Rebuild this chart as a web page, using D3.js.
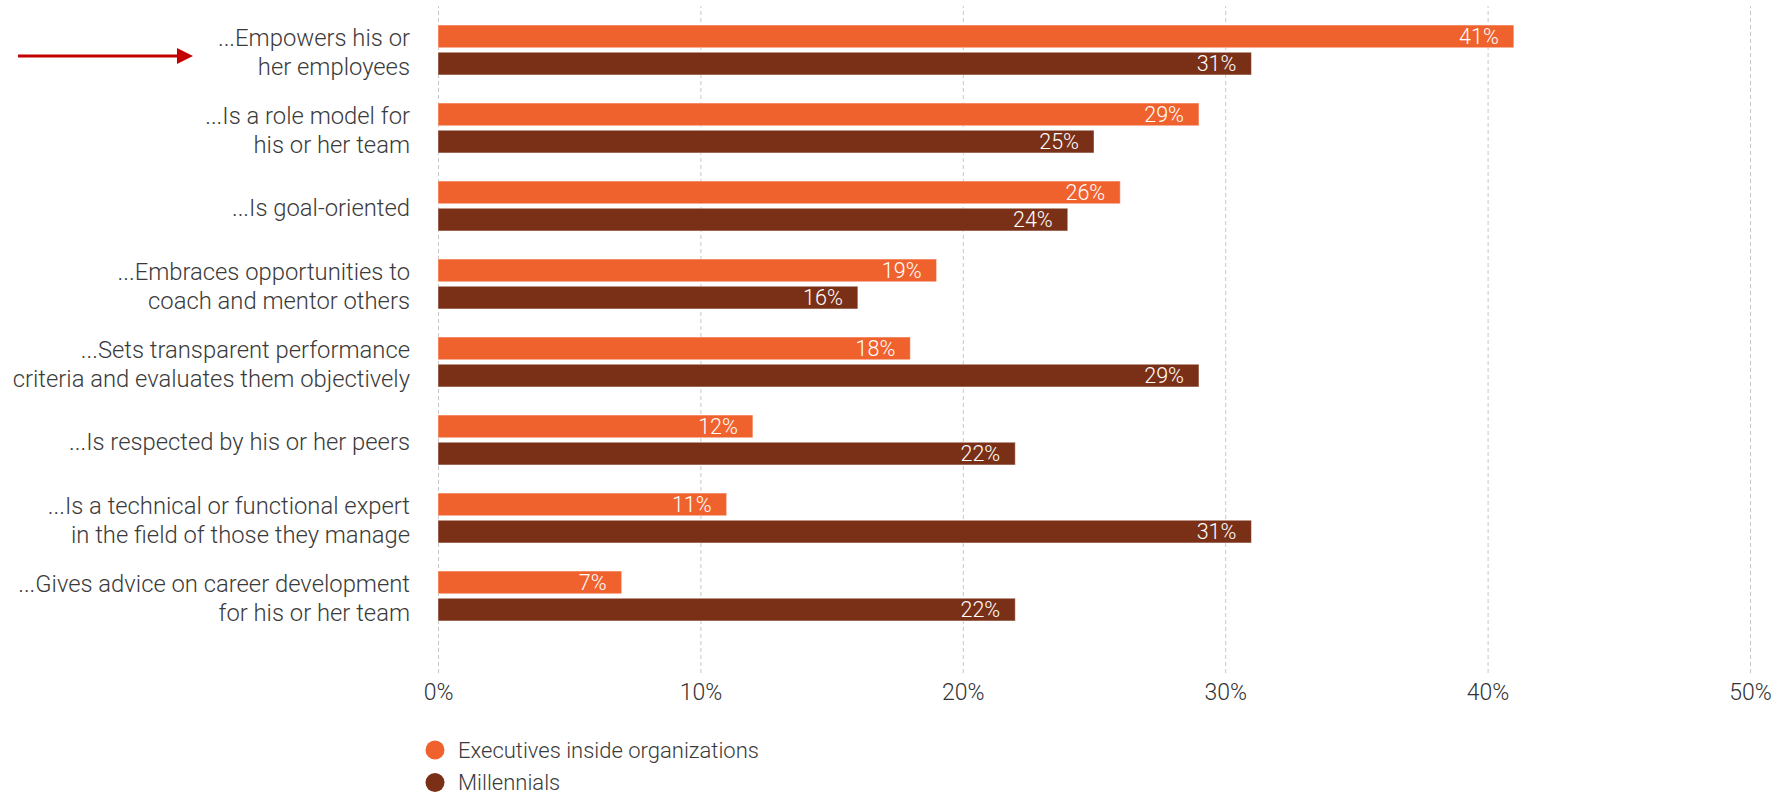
<!DOCTYPE html>
<html>
<head>
<meta charset="utf-8">
<script src="https://cdn.jsdelivr.net/npm/d3@7"></script>
<style>
  html, body { margin: 0; padding: 0; background: #fff; }
  svg { display: block; font-family: Roboto, "Open Sans", sans-serif; }
</style>
</head>
<body>
<svg id="chart" width="1788" height="798"></svg>
<script>
// ---- data ----
const categories = [
  ["...Empowers his or", "her employees"],
  ["...Is a role model for", "his or her team"],
  ["...Is goal-oriented"],
  ["...Embraces opportunities to", "coach and mentor others"],
  ["...Sets transparent performance", "criteria and evaluates them objectively"],
  ["...Is respected by his or her peers"],
  ["...Is a technical or functional expert", "in the field of those they manage"],
  ["...Gives advice on career development", "for his or her team"]
];
const seriesNames = ["Executives inside organizations", "Millennials"];
const executives = [41, 29, 26, 19, 18, 12, 11, 7];
const millennials = [31, 25, 24, 16, 29, 22, 31, 22];
const tickValues = [0, 10, 20, 30, 40, 50];
const colors = ["#EF622D", "#7A3017"];

// ---- layout ----
const svg = d3.select("#chart");
const x = d3.scaleLinear().domain([0, 50]).range([438, 1750]);
const keys = categories.map((c, i) => i);
const y = d3.scaleBand().domain(keys).range([11, 635]).paddingInner(0.36).paddingOuter(0.18);
const ySub = d3.scaleBand().domain([0, 1]).range([0, y.bandwidth()]).paddingInner(0.165);
const seriesValues = [executives, millennials];

const gridTop = 6, gridBottom = 673;

// grid + axis
const axis = d3.axisBottom(x).tickValues(tickValues).tickFormat(d => d + "%").tickSize(-(gridBottom - gridTop));
const gAxis = svg.append("g").attr("transform", `translate(0,${gridBottom})`).call(axis);
gAxis.select(".domain").remove();
gAxis.selectAll(".tick line").attr("stroke", "#c8c8c8").attr("stroke-width", 1).attr("stroke-dasharray", "4,3");
gAxis.selectAll(".tick text")
  .attr("y", 692 - gridBottom).attr("dy", "0.35em")
  .attr("fill", "#333").attr("font-size", 23).attr("font-weight", 300)
  .attr("font-family", "Roboto, sans-serif");

// bars
const groups = svg.append("g").selectAll("g").data(keys).join("g")
  .attr("transform", d => `translate(0,${y(d)})`);

groups.each(function(ci) {
  const g = d3.select(this);
  seriesValues.forEach((vals, si) => {
    const v = vals[ci];
    g.append("rect")
      .attr("x", x(0)).attr("y", ySub(si))
      .attr("width", x(v) - x(0)).attr("height", ySub.bandwidth())
      .attr("fill", colors[si])
      .attr("stroke", "rgba(255,255,255,0.45)").attr("stroke-width", 1);
    g.append("text")
      .attr("x", x(v) - 15).attr("y", ySub(si) + ySub.bandwidth() / 2)
      .attr("dy", "0.36em").attr("text-anchor", "end")
      .attr("fill", "#fff").attr("font-size", 21.5).attr("font-weight", 300)
      .text(v + "%");
  });
});

// category labels
const lineH = 29.6;
svg.append("g").selectAll("text").data(keys).join("text")
  .attr("text-anchor", "end").attr("fill", "#3a3a3a")
  .attr("font-size", 23.8).attr("font-weight", 300)
  .each(function(ci) {
    const lines = categories[ci];
    const cy = y(ci) + y.bandwidth() / 2 + 2;
    const t = d3.select(this);
    lines.forEach((ln, li) => {
      t.append("tspan").attr("x", 410)
        .attr("y", cy + (li - (lines.length - 1) / 2) * lineH)
        .attr("dy", "0.35em").text(ln);
    });
  });

// red arrow
svg.append("defs").append("marker")
  .attr("id", "ah").attr("viewBox", "0 0 16 16").attr("refX", 0).attr("refY", 8)
  .attr("markerWidth", 16).attr("markerHeight", 16).attr("markerUnits", "userSpaceOnUse")
  .attr("orient", "auto")
  .append("path").attr("d", "M0,0 L16,8 L0,16 Z").attr("fill", "#C50000");
svg.append("line")
  .attr("x1", 18).attr("x2", 177).attr("y1", 56).attr("y2", 56)
  .attr("stroke", "#C50000").attr("stroke-width", 3)
  .attr("marker-end", "url(#ah)");

// legend
const legend = svg.append("g").selectAll("g").data(seriesNames).join("g")
  .attr("transform", (d, i) => `translate(435,${750 + i * 32.5})`);
legend.append("circle").attr("r", 9.5).attr("fill", (d, i) => colors[i]);
legend.append("text").attr("x", 23).attr("dy", "0.35em")
  .attr("fill", "#3a3a3a").attr("font-size", 22).attr("font-weight", 300)
  .text(d => d);
</script>
</body>
</html>
